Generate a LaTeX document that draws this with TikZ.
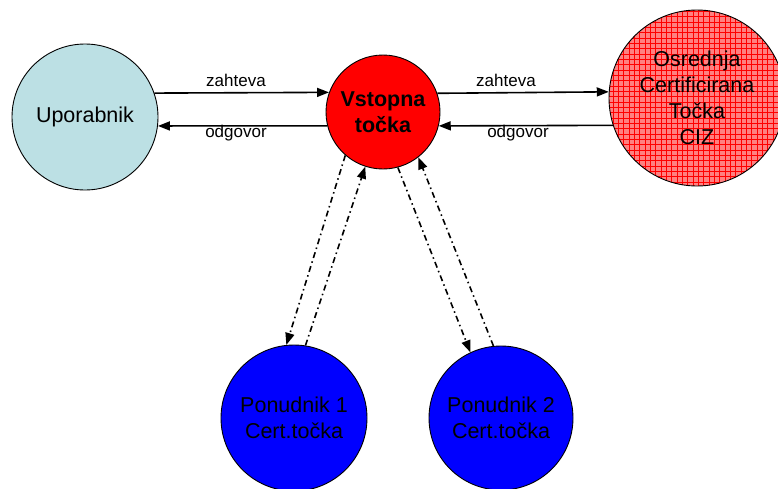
\documentclass[tikz,border=0pt]{standalone}
\usepackage{fontspec}
\setmainfont{Liberation Sans}
\usetikzlibrary{arrows.meta}
\definecolor{userblue}{RGB}{188,224,228}
\definecolor{hatchpink}{RGB}{255,128,128}
\begin{document}
\begin{tikzpicture}[x=1pt,y=-1pt,
  party/.style={circle, draw=black, line width=0.9pt, inner sep=0pt, align=center,
    font=\fontsize{21.5}{26}\selectfont},
  msg/.style={line width=1.6pt, -{Triangle[length=12pt,width=9pt]}},
  link/.style={line width=1.6pt, dash pattern=on 6pt off 3.5pt on 1.5pt off 3.5pt,
    -{Triangle[length=12pt,width=9pt]}},
  lbl/.style={inner sep=0pt, font=\fontsize{17}{20}\selectfont},
  gridfill/.style={fill=hatchpink, path picture={
    \draw[red, line width=0.6pt, step=5.33pt]
      (path picture bounding box.south west) grid (path picture bounding box.north east);}}]
\useasboundingbox (0,0) rectangle (778,488);

% participants
\node[party, fill=userblue, minimum size=146pt] (user) at (85,117) {Uporabnik};
\node[party, fill=red, minimum size=114pt, font=\fontsize{21.5}{26}\selectfont\bfseries] (entry) at (383,112) {Vstopna\\točka};
\node[party, gridfill, minimum size=176pt] (ciz) at (697,98) {Osrednja\\Certificirana\\Točka\\CIZ};
\node[party, fill=blue, minimum size=146pt] (prov1) at (294,418) {Ponudnik 1\\Cert.točka};
\node[party, fill=blue, minimum size=144pt] (prov2) at (501,418) {Ponudnik 2\\Cert.točka};

% request / response between user, entry point and CIZ
\draw[msg] (user.19.2) -- (entry.160.5);
\draw[msg] (entry.194.2) -- (user.-7.1);
\draw[msg] (entry.19.5) -- (ciz.176.7);
\draw[msg] (ciz.198.6) -- (entry.-14.2);

\node[lbl] (req1) at (236,80) {zahteva};
\node[lbl] (res1) at (236,133) {odgovor};
\node[lbl] (req2) at (506,80) {zahteva};
\node[lbl] (res2) at (518,133) {odgovor};

% entry point <-> providers
\draw[link] (entry.229.3) -- (prov1.96.8);
\draw[link] (prov1.81.7) -- (entry.252);
\draw[link] (entry.285.8) -- (prov2.115);
\draw[link] (prov2.96) -- (entry.308.8);
\end{tikzpicture}
\end{document}
